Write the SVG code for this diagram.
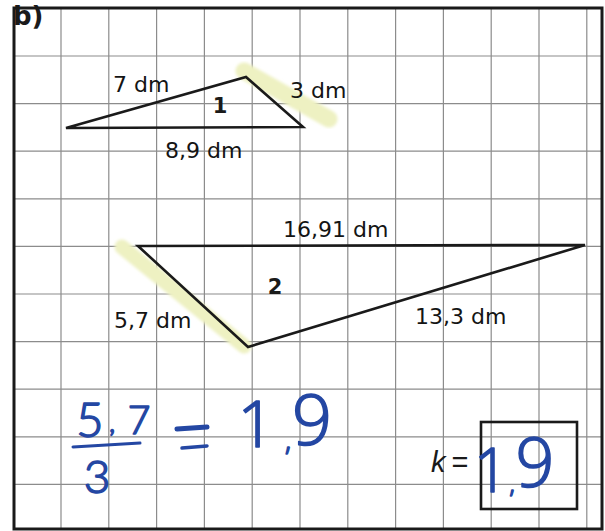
<svg xmlns="http://www.w3.org/2000/svg" width="605" height="531" viewBox="0 0 605 531">
<defs>
<filter id="soft" x="-20%" y="-20%" width="140%" height="140%"><feGaussianBlur stdDeviation="1.5"/></filter>
</defs>
<style>
.grid{stroke:#8c8c8c;stroke-width:1.2;fill:none}
.frame{stroke:#1a1a1a;stroke-width:3;fill:none}
.tri{stroke:#1a1a1a;stroke-width:2.6;fill:none;stroke-linejoin:miter}
.hl{stroke:#eef1c2;stroke-linecap:round;fill:none}
.lbl{font-family:"DejaVu Sans","Liberation Sans",sans-serif;font-size:22px;fill:#141414}
.num{font-family:"DejaVu Sans","Liberation Sans",sans-serif;font-size:21px;font-weight:bold;fill:#1a1a1a;text-anchor:middle}
.ink{font-family:"Open Sans","Liberation Sans",sans-serif;font-weight:300;fill:#2447a3;stroke:#2447a3;stroke-width:1.6;stroke-linejoin:round;text-anchor:middle}
.ink2{font-family:Lato,"Open Sans","Liberation Sans",sans-serif;font-weight:300;fill:#2447a3;stroke:#2447a3;stroke-width:1.6;stroke-linejoin:round;text-anchor:middle}
.pen{stroke:#2447a3;stroke-linecap:round;fill:none}
</style>
<rect width="605" height="531" fill="#ffffff"/>
<g id="grid" class="grid">
<path d="M61 8V529M108.8 8V529M156.6 8V529M204.4 8V529M252.2 8V529M300 8V529M347.8 8V529M395.6 8V529M443.4 8V529M491.2 8V529M539 8V529M586.8 8V529"/>
<path d="M14 56H602M14 103.6H602M14 151.2H602M14 198.8H602M14 246.4H602M14 294H602M14 341.6H602M14 389.2H602M14 436.8H602M14 484.4H602"/>
</g>
<rect id="frame" class="frame" x="14" y="8" width="588" height="521"/>
<text id="part" x="13" y="25" font-family="DejaVu Sans,Liberation Sans,sans-serif" font-size="26" font-weight="bold" fill="#1a1a1a">b)</text>
<g id="triangle1">
<line class="hl" x1="244" y1="71" x2="329" y2="119" stroke-width="17" filter="url(#soft)"/>
<polygon class="tri" points="66,128 246,77 303,127"/>
<text class="num" x="220" y="113">1</text>
<text class="lbl" x="113" y="92">7 dm</text>
<text class="lbl" x="290" y="98">3 dm</text>
<text class="lbl" x="165" y="158">8,9 dm</text>
</g>
<g id="triangle2">
<line class="hl" x1="122" y1="247" x2="244" y2="346" stroke-width="15" filter="url(#soft)"/>
<polygon class="tri" points="138,246 585,245 248,347"/>
<text class="num" x="275" y="294">2</text>
<text class="lbl" x="283" y="237">16,91 dm</text>
<text class="lbl" x="114" y="328">5,7 dm</text>
<text class="lbl" x="415" y="324">13,3 dm</text>
</g>
<g id="calculation">
<line class="pen" x1="73" y1="447" x2="140" y2="443" stroke-width="3"/>
<line class="pen" x1="177" y1="429" x2="207" y2="427" stroke-width="5"/>
<line class="pen" x1="182" y1="448" x2="207" y2="446" stroke-width="3.5"/>
<text class="ink2"><tspan x="90" y="437" font-size="47">5</tspan><tspan x="112" y="432" font-size="28">,</tspan><tspan x="139" y="434" font-size="39">7</tspan></text>
<text class="ink2" x="97" y="493" font-size="46">3</text>
<text class="ink"><tspan x="256" y="447" font-size="65">1</tspan><tspan x="288" y="450" font-size="28">,</tspan><tspan x="312" y="445" font-size="70">9</tspan></text>
</g>
<g id="result">
<text x="431" y="472" font-family="Liberation Sans,Arial,sans-serif" font-size="29" font-style="italic" fill="#1a1a1a">k<tspan dx="6" font-style="normal">=</tspan></text>
<rect x="481" y="422" width="96" height="87" fill="none" stroke="#1a1a1a" stroke-width="2.6"/>
<text class="ink"><tspan x="491" y="492" font-size="60">1</tspan><tspan x="512" y="493" font-size="24">,</tspan><tspan x="535" y="487" font-size="68">9</tspan></text>
</g>
</svg>
